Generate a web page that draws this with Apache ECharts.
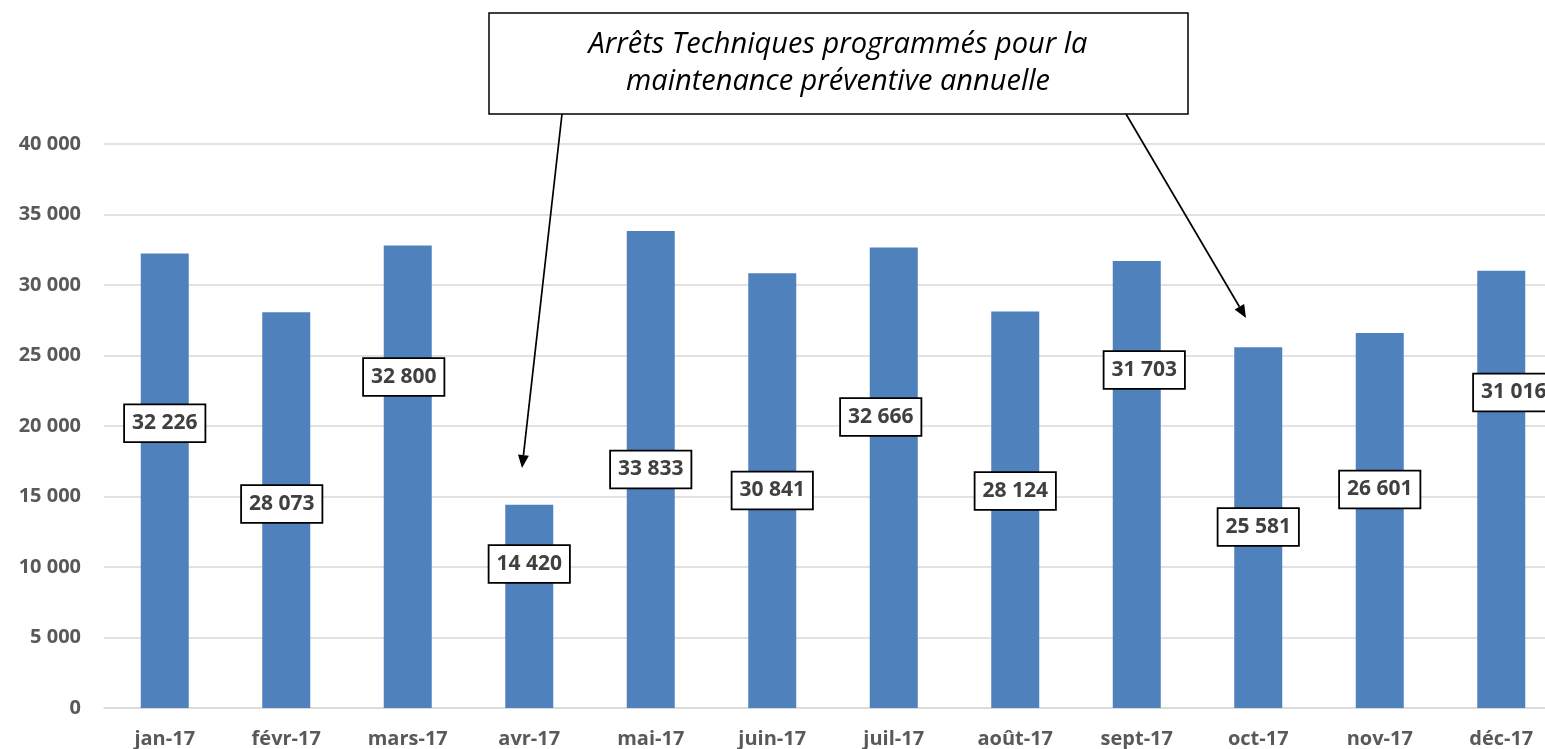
<!DOCTYPE html>
<html>
<head>
<meta charset="utf-8">
<script src="https://cdn.jsdelivr.net/npm/echarts@6/dist/echarts.min.js"></script>
<style>
  html, body { margin: 0; padding: 0; background: #fff; }
  #chart { width: 1545px; height: 749px; }
</style>
</head>
<body>
<div id="chart"></div>
<script>
// data
const months = ["jan-17", "févr-17", "mars-17", "avr-17", "mai-17", "juin-17",
  "juil-17", "août-17", "sept-17", "oct-17", "nov-17", "déc-17"];
const volumes = [32226, 28073, 32800, 14420, 33833, 30841, 32666, 28124, 31703, 25581, 26601, 31016];
const yMin = 0, yMax = 40000, yStep = 5000;
const noteText = "Arrêts Techniques programmés pour la\nmaintenance préventive annuelle";

// where the value boxes sit (moved by hand in the original), in axis units / px shift
const labelLevel = [20200, 14470, 23480, 10210, 16920, 15430, 20640, 15390, 23970, 12840, 15500, 22380];
const labelShift = [0, -4.5, -4, 0, 0, 0, -13, 0, 7.5, 0, 0, 12.5];

const fmt = (v) => String(v).replace(/\B(?=(\d{3})+(?!\d))/g, " ");
const font = '"Open Sans", "DejaVu Sans", sans-serif';

const arrow = (x1, y1, x2, y2) => {
  const a = Math.atan2(y2 - y1, x2 - x1);
  const len = 13, half = 5.5;
  const bx = x2 - len * Math.cos(a), by = y2 - len * Math.sin(a);
  const px = -Math.sin(a) * half, py = Math.cos(a) * half;
  return [
    { type: "line", shape: { x1: x1, y1: y1, x2: bx, y2: by }, style: { stroke: "#000", lineWidth: 1.7 }, z: 100 },
    { type: "polygon", shape: { points: [[x2, y2], [bx + px, by + py], [bx - px, by - py]] }, style: { fill: "#000" }, z: 100 },
  ];
};

const chart = echarts.init(document.getElementById("chart"));
const option = {
  animation: false,
  backgroundColor: "#fff",
  grid: { left: 104, top: 144, bottom: 41, width: 1458, containLabel: false, outerBoundsMode: "none" },
  xAxis: {
    type: "category",
    data: months,
    axisLine: { show: true, lineStyle: { color: "#D9D9D9", width: 1.5 } },
    axisTick: { show: false },
    axisLabel: { color: "#595959", fontFamily: font, fontWeight: "bold", fontSize: 20, margin: 21 },
  },
  yAxis: {
    type: "value",
    min: yMin,
    max: yMax,
    interval: yStep,
    axisLine: { show: false },
    axisTick: { show: false },
    splitLine: { lineStyle: { color: "#D9D9D9", width: 1.5 } },
    axisLabel: { color: "#595959", fontFamily: font, fontWeight: "bold", fontSize: 20, margin: 23, formatter: fmt },
  },
  series: [
    {
      type: "bar",
      data: volumes,
      barWidth: 48,
      itemStyle: { color: "#4F81BD" },
    },
    {
      type: "scatter",
      silent: true,
      symbolSize: 0,
      z: 5,
      itemStyle: { opacity: 1 },
      data: labelLevel.map((lv, i) => ({
        value: [i, lv],
        label: { offset: [labelShift[i], 0] },
      })),
      label: {
        show: true,
        opacity: 1,
        position: "inside",
        formatter: (p) => fmt(volumes[p.dataIndex]),
        color: "#404040",
        fontFamily: font,
        fontWeight: "bold",
        fontSize: 21,
        lineHeight: 24,
        backgroundColor: "#fff",
        borderColor: "#000",
        borderWidth: 1.8,
        padding: [6, 7],
      },
    },
  ],
  graphic: [
    {
      type: "rect",
      shape: { x: 489, y: 13, width: 699, height: 101 },
      style: { fill: "#fff", stroke: "#000", lineWidth: 1.5 },
      z: 100,
    },
    {
      type: "text",
      x: 838,
      y: 63.5,
      style: {
        text: noteText,
        fill: "#000",
        font: 'italic 29px ' + font,
        lineHeight: 37,
        align: "center",
        verticalAlign: "middle",
      },
      z: 101,
    },
    ...arrow(562, 114, 522, 468),
    ...arrow(1126, 114, 1246, 318),
  ],
};
chart.setOption(option);
</script>
</body>
</html>
